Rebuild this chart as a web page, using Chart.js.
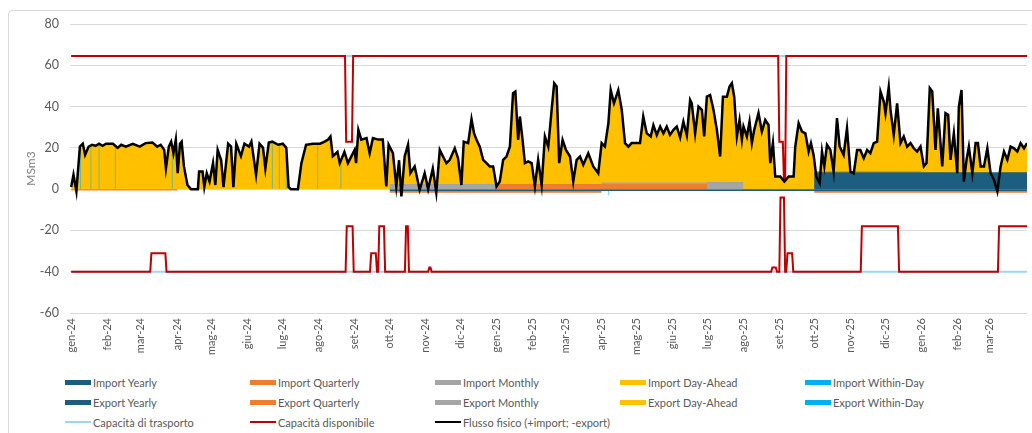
<!DOCTYPE html>
<html>
<head>
<meta charset="utf-8">
<script src="https://cdn.jsdelivr.net/npm/chart.js@4.4.1/dist/chart.umd.min.js"></script>
<style>
  body { margin: 0; background: #fff; font-family: Lato, "Noto Sans", sans-serif; }
  #frame { position: absolute; left: 8px; top: 10px; width: 1040px; height: 440px; border: 1px solid #d9d9d9; border-radius: 4px; }
  #wrap { position: absolute; left: 0; top: 0; width: 1032px; height: 372px; }
  #legend { position: absolute; left: 65px; top: 372px; display: grid; grid-template-columns: repeat(5, 185px); grid-auto-rows: 20px; }
  .item { display: flex; align-items: center; font-size: 11px; color: #595959; white-space: nowrap; }
  .sw { display: inline-block; width: 26px; margin-right: 2px; }
</style>
</head>
<body>
<div id="frame"></div>
<div id="wrap"><canvas id="chart"></canvas></div>
<div id="legend"></div>
<script>
// x axis: day index from 1 Jan 2024
const monthStarts = [0, 31, 60, 91, 121, 152, 182, 213, 244, 274, 305, 335, 366, 397, 425, 456, 486, 517, 547, 578, 609, 639, 670, 700, 731, 762, 790];
const monthLabels = ['gen-24', 'feb-24', 'mar-24', 'apr-24', 'mag-24', 'giu-24', 'lug-24', 'ago-24', 'set-24', 'ott-24', 'nov-24', 'dic-24',
  'gen-25', 'feb-25', 'mar-25', 'apr-25', 'mag-25', 'giu-25', 'lug-25', 'ago-25', 'set-25', 'ott-25', 'nov-25', 'dic-25',
  'gen-26', 'feb-26', 'mar-26'];

// product allocations (step values, each holds until the next break)
const compDays        = [0,    91,  274,  366,  456,  547,  578,  639,  731,  822];
const importYearly    = [0,    0,   0,    0,    0,    0,    0,    8.2,  8.2,  8.2];
const importQuarterly = [0,    0,   0,    2.5,  2.5,  0,    0,    0.5,  0,    0];
const importMonthly   = [0,    0,   2.5,  0,    0.7,  3.5,  0,    0,    0,    0];
const exportYearly    = [0,    0,   -0.9, -0.9, -0.9, -0.9, -0.9, -0.9, -0.9, -0.9];
const exportQuarterly = [-0.7, 0,   -0.8, -0.8, 0,    0,    0,    -0.8, -0.8, -0.8];
const exportMonthly   = [];

// physical flow (also the top edge of the day-ahead area)
const flowDays = [0, 2, 4.5, 7.5, 10, 12, 15, 18, 21, 24, 27, 30, 36, 40, 43, 47, 53, 59, 64, 70, 74, 77, 80, 81.5, 84, 86, 88, 90, 91.6, 93.6, 95, 97, 100, 103, 109, 110, 113, 114.5, 116.6, 119, 122, 124, 126, 129, 131, 135, 137.5, 139.5, 142, 146, 149, 153, 155, 159, 162, 165, 167, 170, 173, 178, 182, 185, 187, 189, 195, 198, 202, 208, 214, 218, 221, 223, 225, 229, 231, 235, 238, 243.8, 245, 247, 249.5, 254, 256.7, 259.5, 264, 268, 271, 273, 276.7, 279.6, 282, 284, 286.8, 289.7, 291.7, 295.4, 299.7, 304, 307, 311, 314, 317, 319.8, 322.7, 325.6, 329.9, 332.7, 335.6, 337.6, 341.4, 344.3, 346.5, 348.6, 351.4, 354.3, 357.2, 360, 362.9, 365.8, 368.6, 371.5, 374.4, 377.3, 380, 382, 384.4, 385.9, 388.2, 390.2, 393, 396, 398.8, 401.6, 404.6, 407.4, 410.3, 413.2, 415.4, 417.5, 419.7, 422.6, 425.5, 429, 431.8, 434.7, 437.6, 440.4, 444.7, 449, 453.3, 456.2, 459, 462, 464, 466.8, 470.5, 473.5, 476.3, 479.2, 482, 486.4, 489.2, 492, 495, 498.4, 500.7, 503.6, 506.5, 509.3, 512.2, 515, 518, 520.8, 523.7, 526.5, 529.5, 532.3, 533.7, 536.6, 539.5, 542.4, 544.4, 546.7, 549.5, 552.4, 555.3, 558.1, 560.5, 563.9, 566.2, 568.2, 570.2, 572.5, 574.8, 576.8, 578.2, 581.1, 583.4, 585.4, 587.4, 591.1, 594, 596.9, 599.7, 601.2, 603.5, 605.5, 609.8, 613.3, 617, 621.3, 622.7, 625.6, 628.5, 631.4, 634.2, 636.2, 638.5, 640.8, 643.7, 645.7, 647.7, 650, 652.9, 655.7, 658.6, 660.9, 664.3, 667.2, 670.1, 673, 675.9, 678.7, 681.6, 684.5, 687.3, 690.2, 693.1, 696, 698.8, 700.3, 701.7, 703.1, 704.6, 707.4, 710.3, 713.2, 716, 718.9, 721.8, 724.6, 727.5, 730.4, 733.3, 735.6, 738.4, 740.5, 743.3, 745.3, 749.1, 751.9, 754.2, 756.2, 759.1, 762, 763.4, 765.7, 767.7, 770, 772, 775, 777.8, 779.8, 782.1, 785, 787.9, 790.7, 793.6, 796.5, 799.3, 802.2, 805.1, 807.9, 810.8, 813.7, 816.5, 819.4, 822];
const flowVals = [1, 7, -1, 20.6, 22, 16.6, 20.6, 21.5, 21, 22, 21, 22, 22, 20, 21.5, 20.6, 22, 20.6, 22.3, 22.6, 20.6, 21.5, 19, 10, 20.6, 23, 17.4, 24, 7.7, 22, 23, 11, 2, 0, 0, 8.5, 8.5, 1, 7.7, 3.7, 12.6, 2, 19, 14, 1, 22, 20.6, 1, 22, 16, 22, 20.6, 23, 7, 22, 20, 10, 22.6, 23, 21.5, 22, 20, 1, 0, 0, 12.6, 21.5, 22, 22, 23, 24, 25.5, 16, 18, 12.6, 18, 12.6, 19, 12.6, 28.7, 24, 24.7, 17.4, 24.7, 24, 24, 1.3, 21.5, 17.4, 1.3, 14, -3.5, 15.8, 21.5, 7.7, 11, -0.3, 7.7, 0, 10, -1.6, 19, 15.8, 12.6, 14.2, 19.8, 15, 2, 23, 22.3, 33.9, 27, 23.9, 20.6, 14.2, 12.6, 11, 11, 1.3, 3.7, 14.2, 15.8, 20.6, 46.5, 47.3, 23.9, 35.2, 23.9, 12.6, 13.4, 12.6, 1.3, 14.2, 2, 25.5, 20.6, 38.4, 51.3, 49.7, 12.6, 23.9, 19, 15.8, 3.7, 14.2, 15.8, 11.8, 17.4, 11, 7.7, 22.3, 20.6, 31.9, 48, 41.6, 48, 38.4, 22.3, 20.6, 22.3, 22.3, 22.3, 35.2, 27, 25.5, 31, 26.3, 30.3, 27, 30.3, 26.3, 28.7, 30.3, 25, 32.7, 26, 43.2, 41.6, 27, 40, 38.4, 25.5, 44.8, 45.6, 38.4, 28.7, 15.8, 44.8, 44.8, 49.7, 51.3, 44.8, 25.5, 33.5, 23.9, 30.3, 25.5, 32.7, 22.3, 28.7, 36.8, 27.9, 33.5, 31.1, 12.6, 22.3, 6.1, 6.1, 3.7, 6.1, 6.1, 20.6, 31.9, 27.9, 27, 18.2, 22.3, 16.6, 6.1, 2.9, 18.2, 11, 21.5, 19, 8.5, 34.4, 20.6, 16.6, 29.5, 8.5, 7.7, 19, 19, 15, 19, 17.4, 22.3, 23, 47.3, 42.4, 36.8, 43.2, 49.4, 38.4, 26.3, 41.6, 22.3, 25.5, 20.6, 22.3, 19.8, 18.2, 20.6, 11, 12.6, 48.9, 47.3, 19, 39.2, 11, 36.8, 36, 14.2, 27, 7.7, 40, 48, 3.7, 14.2, 20.6, 7.7, 22.3, 22.3, 11, 11, 19.8, 7.7, 4.5, -1.1, 11, 18.2, 14.2, 20.6, 19.8, 18.2, 22.3, 19.8, 22.3];

// within-day streaks and small export day-ahead amounts
const withinDayImpDays = [8, 17, 24, 38, 87, 173, 179, 185, 212, 232];
const withinDayImpVals = [20, 21, 22, 21, 17, 22, 21, 20, 22, 14];
const withinDayExpDays = [462];
const withinDayExpVals = [-3];
const dayAheadExpDays  = [437, 455];
const dayAheadExpVals  = [-1.2, -1.5];

// capacities
const capTransDays   = [0, 822];
const capTransTop    = [64.5, 64.5];
const capTransBottom = [-40, -40];
const capAvailTopDays = [0, 235.5, 236.5, 241.5, 242.5, 608, 609, 612, 613, 614, 615, 822];
const capAvailTopVals = [64.5, 64.5, 23, 23, 64.5, 64.5, 23, 23, 4, 4, 64.5, 64.5];
const capAvailBotDays = [0, 68, 69, 81, 82, 236, 237, 242, 243, 257, 258, 262, 263, 264, 265, 269, 270, 287, 288, 289.5, 290.5, 307, 308, 309, 310, 602, 603, 606, 607, 609, 610, 613, 614, 615, 616, 620, 621, 679, 680, 711, 712, 797, 798, 822];
const capAvailBotVals = [-40, -40, -31, -31, -40, -40, -18, -18, -40, -40, -31, -31, -40, -40, -18, -18, -40, -40, -18, -18, -40, -40, -38, -38, -40, -40, -38, -38, -40, -40, -4, -4, -40, -40, -31, -31, -40, -40, -18, -18, -40, -40, -18, -18];

const DARKBLUE = '#1B5E80', ORANGE = '#ED7D31', GREY = '#A5A5A5', YELLOW = '#FFC000', CYAN = '#00B0F0';
const LIGHTBLUE = '#9DD5F2', RED = '#C00000', STREAK = 'rgba(0,176,240,0.55)';

const pts = (xs, ys) => xs.map((x, i) => ({ x: x, y: ys[i] }));
const bars = (xs, ys) => xs.map((x, i) => ({ x: x, y: [0, ys[i]] }));

const area = (label, xs, ys, color, stack, fill, order) => ({
  type: 'line', label, data: pts(xs, ys), stepped: true, stack, fill,
  backgroundColor: color, borderWidth: 0, pointRadius: 0, order, swatch: 'box', swatchColor: color
});
const streak = (label, xs, ys, color, swatchColor, stack) => ({
  type: 'bar', label, data: bars(xs, ys), stack, grouped: false, maxBarThickness: 1,
  backgroundColor: color, borderWidth: 0, order: 6, swatch: 'box', swatchColor
});
const line = (label, xs, ys, color, width, stack, order, legend) => ({
  type: 'line', label, data: pts(xs, ys), stack, fill: false, borderColor: color, borderWidth: width,
  pointRadius: 0, tension: 0, order, swatch: 'line', swatchColor: color, legend
});

const datasets = [
  area('Import Yearly', compDays, importYearly, DARKBLUE, 'imp', 'origin', 5),
  area('Import Quarterly', compDays, importQuarterly, ORANGE, 'imp', '-1', 5),
  area('Import Monthly', compDays, importMonthly, GREY, 'imp', '-1', 5),
  {
    type: 'line', label: 'Import Day-Ahead', data: pts(flowDays, flowVals), stack: 'da',
    fill: { target: 'origin', above: YELLOW, below: 'rgba(0,0,0,0)' },
    borderWidth: 0, pointRadius: 0, order: 8, swatch: 'box', swatchColor: YELLOW
  },
  streak('Import Within-Day', withinDayImpDays, withinDayImpVals, STREAK, CYAN, 'wdi'),
  area('Export Yearly', compDays, exportYearly, DARKBLUE, 'exp', 'origin', 5),
  area('Export Quarterly', compDays, exportQuarterly, ORANGE, 'exp', '-1', 5),
  { type: 'line', label: 'Export Monthly', data: exportMonthly, stack: 'em', pointRadius: 0, borderWidth: 0, swatch: 'box', swatchColor: GREY },
  streak('Export Day-Ahead', dayAheadExpDays, dayAheadExpVals, YELLOW, YELLOW, 'dae'),
  streak('Export Within-Day', withinDayExpDays, withinDayExpVals, STREAK, CYAN, 'wde'),
  line('Capacità di trasporto', capTransDays, capTransTop, LIGHTBLUE, 2, 'ct1', 3),
  line('Capacità disponibile', capAvailTopDays, capAvailTopVals, RED, 2, 'cd1', 2),
  line('Flusso fisico (+import; -export)', flowDays, flowVals, '#000000', 2.5, 'ff', 0),
  line('Capacità di trasporto', capTransDays, capTransBottom, LIGHTBLUE, 2, 'ct2', 3, false),
  line('Capacità disponibile', capAvailBotDays, capAvailBotVals, RED, 2, 'cd2', 2, false)
];

const ctx = document.getElementById('chart').getContext('2d');
const chart = new Chart(ctx, {
  type: 'line',
  data: { datasets },
  options: {
    responsive: true,
    maintainAspectRatio: false,
    animation: false,
    layout: { padding: { left: 0, right: 5, top: 24, bottom: 0 } },
    plugins: { legend: { display: false }, tooltip: { enabled: false } },
    scales: {
      x: {
        type: 'linear', min: -1, max: 822, offset: false,
        afterBuildTicks: scale => { scale.ticks = monthStarts.map(v => ({ value: v })); },
        afterFit: scale => { scale.height = 59; },
        grid: { display: false, drawTicks: false },
        border: { display: false },
        ticks: {
          autoSkip: false, minRotation: 90, maxRotation: 90, padding: 5,
          color: '#595959', font: { family: 'Lato', size: 11 },
          callback: v => monthLabels[monthStarts.indexOf(v)]
        }
      },
      y: {
        stacked: true,
        min: -60, max: 80,
        afterFit: scale => { scale.width = 70; },
        grid: { color: '#d9d9d9', lineWidth: 1, drawTicks: false },
        border: { display: false },
        ticks: { stepSize: 20, padding: 11, color: '#595959', font: { family: 'Lato', size: 12.5 } },
        title: { display: true, text: 'MSm3', color: '#7f7f7f', font: { family: 'Lato', size: 12 }, padding: { top: 24, bottom: 0 } }
      }
    }
  }
});

// html legend laid out in five columns like the original
const legendEl = document.getElementById('legend');
chart.data.datasets.forEach(ds => {
  if (ds.legend === false) return;
  const item = document.createElement('div');
  item.className = 'item';
  const sw = document.createElement('span');
  sw.className = 'sw';
  sw.style.height = ds.swatch === 'line' ? '2px' : '5px';
  sw.style.background = ds.swatchColor;
  item.appendChild(sw);
  item.appendChild(document.createTextNode(ds.label));
  legendEl.appendChild(item);
});
</script>
</body>
</html>
